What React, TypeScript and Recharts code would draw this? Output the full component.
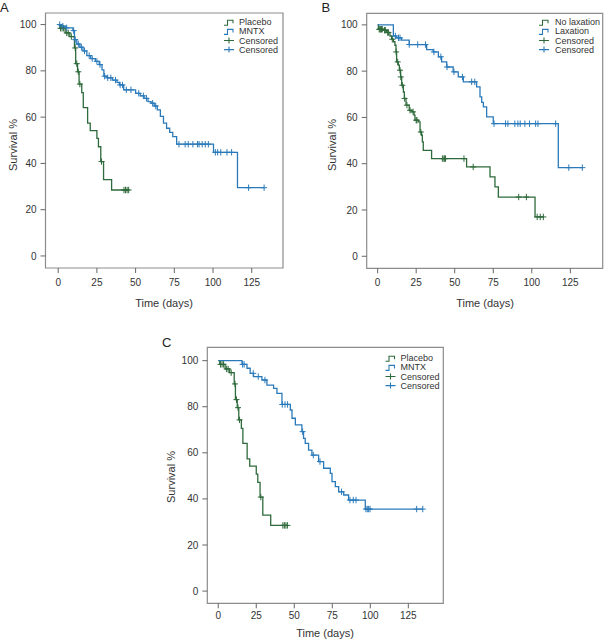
import React from 'react';
import { ComposedChart, Line, Scatter, XAxis, YAxis, ReferenceArea } from 'recharts';

const GREEN = '#2e6a3b';
const BLUE = '#2a7aba';
const BOX = '#8c8c8c';
const TXT = '#333333';
const FONT = '"Liberation Sans", Arial, Helvetica, sans-serif';

const xTicks = [0, 25, 50, 75, 100, 125];
const yTicks = [0, 20, 40, 60, 80, 100];

// ---- Placebo (panels A and C)
const placeboTimes = [0, 1, 4.5, 7.5, 10.5, 11.3, 12.5, 13.5, 15.2, 16.2, 19, 20.7, 25, 26, 27.5, 29.3, 34.5];
const placeboSurv = [100, 98.4, 96.4, 94.8, 89.9, 83.1, 79.6, 74.3, 70.6, 64.1, 57.4, 54.2, 50.8, 47.2, 40.8, 33.0, 28.5];
const placeboEnd = 45.5;
const placeboCensor = [1.5, 2.5, 3.5, 5.5, 6.5, 8.5, 11, 12, 13, 14, 28, 42.5, 43.5, 44.5, 45.5];

// ---- MNTX (panel A)
const mntxATimes = [0, 2, 5, 9.5, 10.5, 12, 14, 16, 18.5, 21, 24, 26.5, 28.3, 29.5, 31.5, 35, 38, 39.5, 42.3, 50, 53, 55.5, 58, 60, 62, 64, 66, 68, 70, 72, 74, 76.5, 100.3, 115.8];
const mntxASurv = [100, 99.3, 98.6, 97.4, 93.5, 91.6, 90.2, 88.6, 86.6, 85.3, 84.1, 82.7, 80.4, 77.7, 77, 76, 75, 73.9, 71.8, 70.3, 69.2, 68.1, 66.7, 66, 64.8, 63.1, 60.3, 57.4, 55.2, 53.4, 51.6, 48.3, 44.8, 29.5];
const mntxAEnd = 133;
const mntxACensor = [1, 3, 5.5, 10, 11, 13, 15, 17, 20, 22, 25, 27, 30, 32, 34, 37, 40, 41.5, 44, 47, 52, 55, 57, 61, 63, 78, 82, 84, 87, 90, 91, 93, 95, 97, 101.5, 103, 105, 109, 112, 123, 133];

// ---- No laxation (panel B)
const noLaxTimes = [0, 0.5, 3.5, 5.8, 8, 9.1, 10.2, 11.2, 11.9, 12.3, 13.4, 14.1, 14.9, 15.6, 16.7, 17.3, 18.4, 20.5, 22.1, 23.6, 24.2, 26.4, 27.5, 28.5, 29, 29.6, 35, 57.7, 72.9, 76.1, 78.3, 102.1];
const noLaxSurv = [100, 98.1, 97.7, 96.7, 95.2, 93.8, 92.7, 91.2, 88.3, 84.0, 82.6, 80.4, 77.5, 73.9, 71.0, 68.2, 65.3, 63.1, 62.4, 61.0, 58.8, 58.1, 53.7, 52.3, 49.4, 45.8, 42.2, 38.6, 34.3, 30.0, 25.6, 17.0];
const noLaxEnd = 107.5;
const noLaxCensor = [1, 1.5, 2, 2.5, 3, 4.5, 5, 6.5, 7, 9.5, 12, 13, 14.5, 15, 16, 17.5, 19, 21, 23, 25, 25.5, 28, 42, 43, 43.5, 44, 56, 62, 91.5, 96.5, 103.5, 105.5, 107.5];

// ---- Laxation (panel B)
const laxTimes = [0, 10.2, 12, 15.5, 20.5, 31.8, 36, 39.4, 41.5, 44.8, 49, 52.3, 55.6, 64.2, 66.4, 67.5, 68.6, 70.7, 75, 117.2];
const laxSurv = [100, 95.2, 94.4, 93.4, 91.5, 89.3, 88.3, 86.2, 84, 81.8, 79.7, 77.5, 75.4, 73.2, 68.9, 66.5, 64.6, 60.2, 57.3, 38.3];
const laxEnd = 132.8;
const laxCensor = [11.5, 13.5, 14.5, 20.5, 26, 31, 36.5, 41, 45, 49.5, 55, 61, 63, 75.5, 83, 84.5, 89, 91, 92.5, 95.5, 98.5, 102.5, 104, 115.5, 124, 132.8];

// ---- MNTX (panel C)
const mntxCTimes = [0, 15.6, 18.9, 21, 23.2, 28.7, 32, 36.4, 38.6, 41.9, 47.4, 48.5, 50.7, 55, 56.1, 57.2, 59.4, 61.6, 66, 69.3, 73.7, 74.8, 77, 79.2, 82.5, 85.7, 96.7];
const mntxCSurv = [100, 98.4, 96.7, 94.5, 93.1, 91.6, 89.4, 88, 85.8, 81, 78.6, 75, 72.1, 69.2, 66.3, 64.1, 61.2, 59, 56.2, 53.3, 51.1, 47.5, 45.3, 43.1, 41.7, 39.5, 35.6];
const mntxCEnd = 134.5;
const mntxCCensor = [16, 17, 23, 26.3, 30.7, 42.1, 43.9, 45.6, 55.5, 62.5, 66.9, 81.1, 86.6, 88.8, 90.6, 97.1, 98, 98.9, 99.8, 130.5, 134.5];

const legendA = ['Placebo', 'MNTX', 'Censored', 'Censored'];
const legendB = ['No laxation', 'Laxation', 'Censored', 'Censored'];

function stepCurve(times: number[], surv: number[], end: number) {
  const pts = times.map((t, i) => ({ t, s: surv[i] }));
  pts.push({ t: end, s: surv[surv.length - 1] });
  return pts;
}

function censorPoints(times: number[], surv: number[], cens: number[]) {
  return cens.map((c) => {
    let v = surv[0];
    times.forEach((t, i) => {
      if (t <= c) v = surv[i];
    });
    return { t: c, s: v };
  });
}

const makeCross = (color: string) => (props: any) => {
  const { cx, cy } = props;
  if (cx == null || cy == null) return <g />;
  return (
    <path
      d={`M${cx - 3},${cy}H${cx + 3}M${cx},${cy - 3.2}V${cy + 3.2}`}
      stroke={color}
      strokeWidth={1}
      fill="none"
    />
  );
};

type PanelCfg = {
  letter: string;
  left: number;
  top: number;
  width: number;
  height: number;
  margin: { top: number; right: number; bottom: number; left: number };
  yAxisWidth: number;
  xAxisHeight: number;
  xDomain: [number, number];
  yDomain: [number, number];
  xTickMargin: number;
  series: { times: number[]; surv: number[]; end: number; censor: number[]; color: string }[];
  legend: string[];
  legendIconX: number;
  legendTextX: number;
  legendY: number;
  xTitle: [number, number];
  yTitle: [number, number];
  letterPos: [number, number];
};

function Panel({ cfg }: { cfg: PanelCfg }) {
  const tickStyle = { fontSize: 10, fill: TXT, fontFamily: FONT };
  const colors = [cfg.series[0].color, cfg.series[1].color];
  return (
    <div style={{ position: 'absolute', left: cfg.left, top: cfg.top, width: cfg.width, height: cfg.height }}>
      <ComposedChart width={cfg.width} height={cfg.height} margin={cfg.margin}>
        <XAxis
          type="number"
          dataKey="t"
          domain={cfg.xDomain}
          ticks={xTicks}
          interval={0}
          allowDataOverflow
          axisLine={false}
          tickLine={{ stroke: '#666' }}
          tickSize={5}
          tickMargin={cfg.xTickMargin}
          height={cfg.xAxisHeight}
          tick={tickStyle}
        />
        <YAxis
          type="number"
          dataKey="s"
          domain={cfg.yDomain}
          ticks={yTicks}
          interval={0}
          allowDataOverflow
          axisLine={false}
          tickLine={{ stroke: '#666' }}
          tickSize={5}
          tickMargin={4}
          width={cfg.yAxisWidth}
          tick={tickStyle}
        />
        <ReferenceArea
          x1={cfg.xDomain[0]}
          x2={cfg.xDomain[1]}
          y1={cfg.yDomain[0]}
          y2={cfg.yDomain[1]}
          fill="none"
          fillOpacity={0}
          stroke={BOX}
          strokeWidth={1.2}
          ifOverflow="visible"
        />
        {cfg.series.map((sr, i) => (
          <Line
            key={'l' + i}
            data={stepCurve(sr.times, sr.surv, sr.end)}
            dataKey="s"
            type="stepAfter"
            stroke={sr.color}
            strokeWidth={1.3}
            dot={false}
            activeDot={false}
            isAnimationActive={false}
          />
        ))}
        {cfg.series.map((sr, i) => (
          <Scatter
            key={'c' + i}
            data={censorPoints(sr.times, sr.surv, sr.censor)}
            dataKey="s"
            shape={makeCross(sr.color)}
            isAnimationActive={false}
          />
        ))}
      </ComposedChart>
      <svg
        width={cfg.width}
        height={cfg.height}
        style={{ position: 'absolute', left: 0, top: 0, pointerEvents: 'none' }}
        fontFamily={FONT}
      >
        <text x={cfg.letterPos[0]} y={cfg.letterPos[1]} fontSize={13} fill="#222">
          {cfg.letter}
        </text>
        <text
          x={cfg.xTitle[0]}
          y={cfg.xTitle[1]}
          fontSize={11}
          fill={TXT}
          textAnchor="middle"
          dominantBaseline="central"
        >
          Time (days)
        </text>
        <text
          x={cfg.yTitle[0]}
          y={cfg.yTitle[1]}
          fontSize={11}
          fill={TXT}
          textAnchor="middle"
          dominantBaseline="central"
          transform={`rotate(-90 ${cfg.yTitle[0]} ${cfg.yTitle[1]})`}
        >
          Survival %
        </text>
        {cfg.legend.map((lab, i) => {
          const y = cfg.legendY + i * 9.1;
          const x = cfg.legendIconX;
          const c = colors[i % 2];
          const icon =
            i < 2 ? (
              <path d={`M${x},${y + 3}H${x + 3.5}V${y - 2}H${x + 9}V${y + 1}`} stroke={c} strokeWidth={1.1} fill="none" />
            ) : (
              <path d={`M${x},${y}H${x + 10}M${x + 5},${y - 3}V${y + 3}`} stroke={c} strokeWidth={1.1} fill="none" />
            );
          return (
            <g key={lab + i}>
              {icon}
              <text x={cfg.legendTextX} y={y} fontSize={9} fill={TXT} dominantBaseline="central">
                {lab}
              </text>
            </g>
          );
        })}
      </svg>
    </div>
  );
}

const panelA: PanelCfg = {
  letter: 'A',
  left: 0,
  top: 0,
  width: 300,
  height: 310,
  margin: { top: 13, right: 17, bottom: 0, left: 0 },
  yAxisWidth: 45.5,
  xAxisHeight: 42,
  xDomain: [-8.2, 145.2],
  yDomain: [-5.2, 105.0],
  xTickMargin: 6,
  series: [
    { times: placeboTimes, surv: placeboSurv, end: placeboEnd, censor: placeboCensor, color: GREEN },
    { times: mntxATimes, surv: mntxASurv, end: mntxAEnd, censor: mntxACensor, color: BLUE },
  ],
  legend: legendA,
  legendIconX: 224,
  legendTextX: 239,
  legendY: 22.3,
  xTitle: [164, 303],
  yTitle: [12.7, 145],
  letterPos: [0, 12],
};

const panelB: PanelCfg = {
  letter: 'B',
  left: 300,
  top: 0,
  width: 304,
  height: 310,
  margin: { top: 13.3, right: 1.3, bottom: 0, left: 0 },
  yAxisWidth: 66.7,
  xAxisHeight: 41.7,
  xDomain: [-7.1, 146.0],
  yDomain: [-5.2, 105.0],
  xTickMargin: 6,
  series: [
    { times: noLaxTimes, surv: noLaxSurv, end: noLaxEnd, censor: noLaxCensor, color: GREEN },
    { times: laxTimes, surv: laxSurv, end: laxEnd, censor: laxCensor, color: BLUE },
  ],
  legend: legendB,
  legendIconX: 239,
  legendTextX: 255,
  legendY: 22.3,
  xTitle: [185, 303],
  yTitle: [31.7, 145],
  letterPos: [21.5, 12],
};

const panelC: PanelCfg = {
  letter: 'C',
  left: 150,
  top: 305,
  width: 300,
  height: 334,
  margin: { top: 42.3, right: 6.7, bottom: 0, left: 0 },
  yAxisWidth: 57.3,
  xAxisHeight: 35.7,
  xDomain: [-7.2, 148.0],
  yDomain: [-5.3, 105.8],
  xTickMargin: 4,
  series: [
    { times: placeboTimes, surv: placeboSurv, end: placeboEnd, censor: placeboCensor, color: GREEN },
    { times: mntxCTimes, surv: mntxCSurv, end: mntxCEnd, censor: mntxCCensor, color: BLUE },
  ],
  legend: legendA,
  legendIconX: 235.5,
  legendTextX: 250.5,
  legendY: 53.3,
  xTitle: [175, 328],
  yTitle: [20.7, 172],
  letterPos: [12, 42],
};

export default function App() {
  return (
    <div style={{ position: 'absolute', left: 0, top: 0, width: 604, height: 639, background: '#fff', overflow: 'hidden' }}>
      <Panel cfg={panelA} />
      <Panel cfg={panelB} />
      <Panel cfg={panelC} />
    </div>
  );
}
